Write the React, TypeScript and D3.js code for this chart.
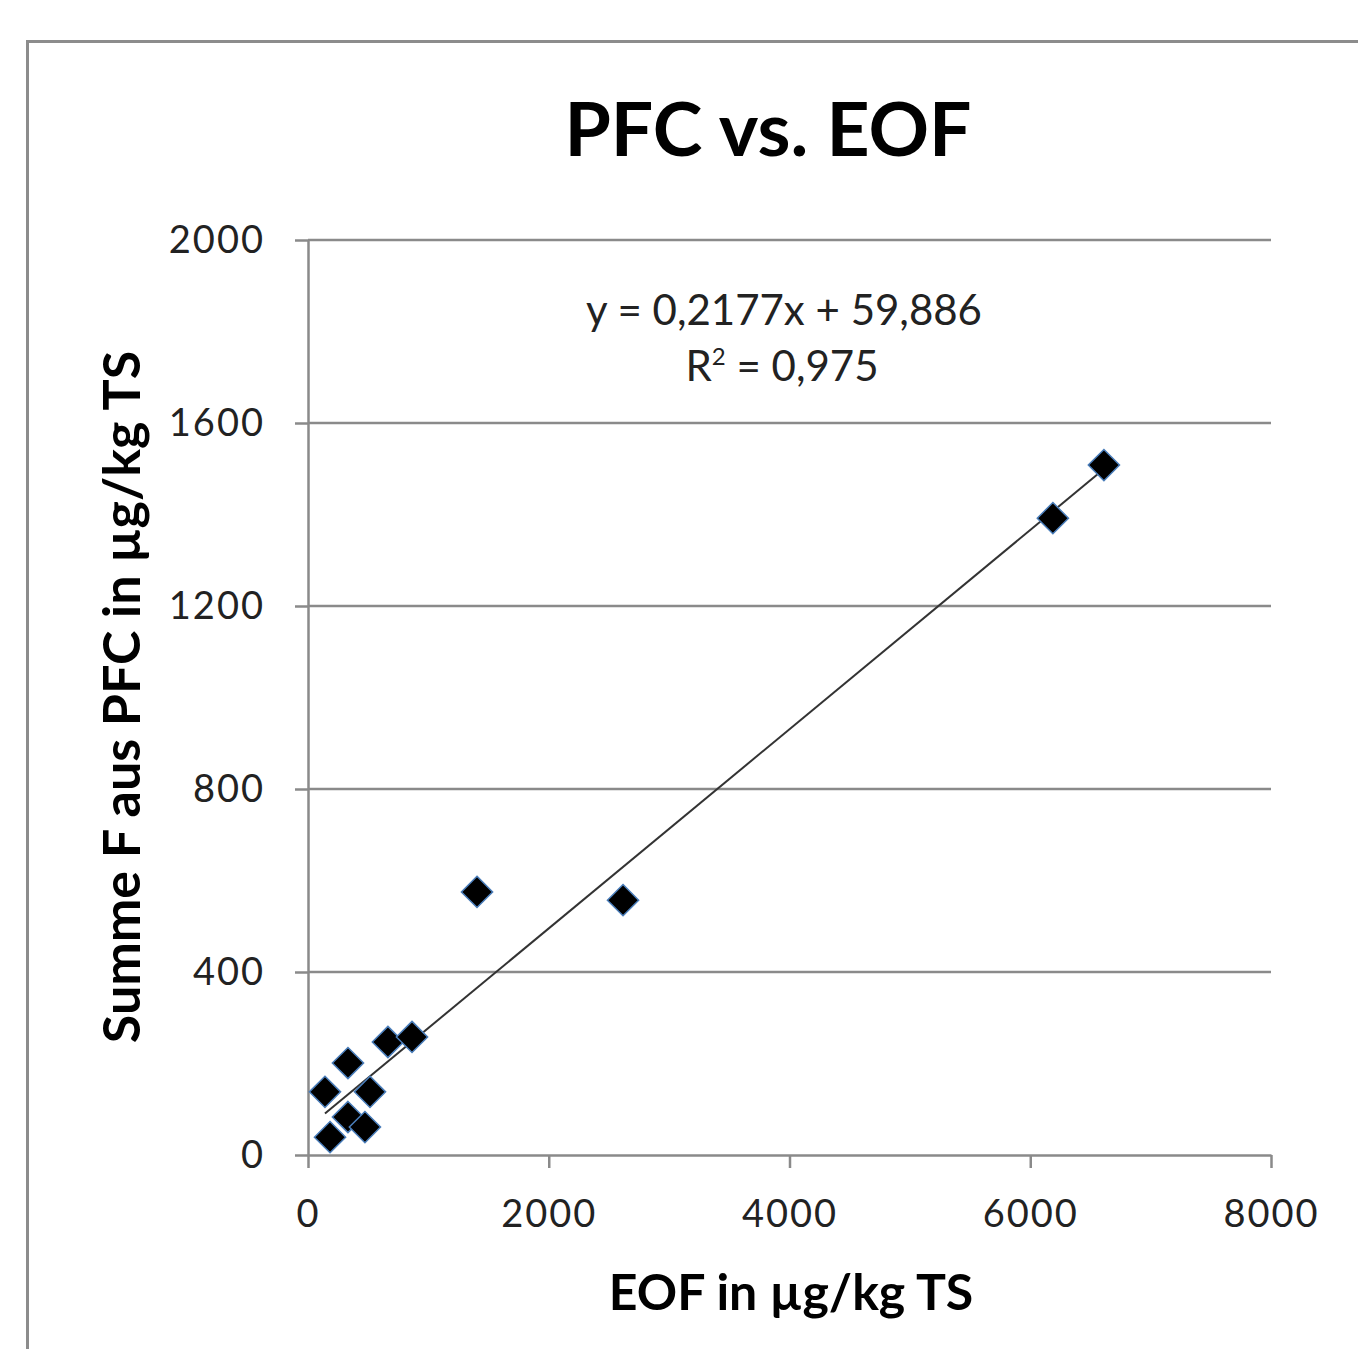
import React, { useEffect, useRef } from 'react';
import * as d3 from 'd3';

const eofValues = [183, 332, 473, 141, 515, 332, 664, 864, 1404, 2617, 6188, 6612];
const pfcValues = [39, 83, 61, 138, 138, 201, 247, 258, 575, 557, 1392, 1508];
const xTicks = [0, 2000, 4000, 6000, 8000];
const yTicks = [0, 400, 800, 1200, 1600, 2000];
const slope = 0.2177;
const intercept = 59.886;

const W = 1358;
const H = 1349;

const drawChart = (container: SVGSVGElement) => {
    d3.select(container).selectAll('*').remove();
    const svg = d3.select(container).attr('width', W).attr('height', H);

    const x = d3.scaleLinear().domain([0, 8000]).range([308, 1271]);
    const y = d3.scaleLinear().domain([0, 2000]).range([1155, 240]);
    const font = 'Lato, "Open Sans", sans-serif';

    svg.append('rect').attr('width', W).attr('height', H).attr('fill', '#fff');

    // outer chart frame (cut at right/bottom)
    svg.append('path')
        .attr('d', `M27.5,${H + 5} V41.5 H${W + 5}`)
        .attr('fill', 'none')
        .attr('stroke', '#8c8c8c')
        .attr('stroke-width', 3);

    // gridlines
    svg.append('g').selectAll('line')
        .data(yTicks.filter(d => d > 0))
        .enter().append('line')
        .attr('x1', x(0)).attr('x2', x(8000))
        .attr('y1', d => y(d)).attr('y2', d => y(d))
        .attr('stroke', '#8a8a8a')
        .attr('stroke-width', 2.5);

    const tickStyle = (g: any) => {
        g.select('.domain').attr('stroke', '#8a8a8a').attr('stroke-width', 2.5);
        g.selectAll('.tick line').attr('stroke', '#8a8a8a').attr('stroke-width', 2.5);
        g.selectAll('.tick text')
            .attr('fill', '#222')
            .style('font-family', font)
            .style('font-size', '38px')
            .style('letter-spacing', '2px');
    };

    svg.append('g')
        .attr('transform', `translate(0,${y(0)})`)
        .call(d3.axisBottom(x).tickValues(xTicks).tickSize(13).tickSizeOuter(0).tickPadding(32).tickFormat(d3.format('d')))
        .call(tickStyle);

    svg.append('g')
        .attr('transform', `translate(${x(0)},0)`)
        .call(d3.axisLeft(y).tickValues(yTicks).tickSize(13).tickSizeOuter(0).tickPadding(30).tickFormat(d3.format('d')))
        .call(tickStyle);

    // trendline
    const [xmin, xmax] = d3.extent(eofValues) as [number, number];
    svg.append('line')
        .attr('x1', x(xmin)).attr('y1', y(slope * xmin + intercept))
        .attr('x2', x(xmax)).attr('y2', y(slope * xmax + intercept))
        .attr('stroke', '#333')
        .attr('stroke-width', 2);

    // markers
    const diamond = d3.symbol().type(d3.symbolDiamond2).size(620);
    svg.append('g').selectAll('path')
        .data(eofValues.map((v, i) => ({ x: v, y: pfcValues[i] })))
        .enter().append('path')
        .attr('d', diamond as any)
        .attr('transform', d => `translate(${x(d.x)},${y(d.y)})`)
        .attr('fill', '#000')
        .attr('stroke', '#4a7ebb')
        .attr('stroke-width', 1.5);

    svg.append('text')
        .attr('x', 768).attr('y', 156)
        .attr('text-anchor', 'middle')
        .style('font-family', font)
        .style('font-weight', 700)
        .style('font-size', '75px')
        .attr('fill', '#000')
        .text('PFC vs. EOF');

    svg.append('text')
        .attr('x', 784).attr('y', 325)
        .attr('text-anchor', 'middle')
        .style('font-family', font)
        .style('font-size', '42px')
        .attr('fill', '#222')
        .text('y = 0,2177x + 59,886');

    const r2 = svg.append('text')
        .attr('x', 782).attr('y', 381)
        .attr('text-anchor', 'middle')
        .style('font-family', font)
        .style('font-size', '42px')
        .attr('fill', '#222');
    r2.append('tspan').text('R');
    r2.append('tspan').attr('dy', -16).style('font-size', '24px').text('2');
    r2.append('tspan').attr('dy', 16).text(' = 0,975');

    svg.append('text')
        .attr('x', 791).attr('y', 1310)
        .attr('text-anchor', 'middle')
        .style('font-family', font)
        .style('font-weight', 700)
        .style('font-size', '50px')
        .attr('fill', '#000')
        .text('EOF in µg/kg TS');

    svg.append('text')
        .attr('transform', `translate(140,697) rotate(-90)`)
        .attr('text-anchor', 'middle')
        .style('font-family', font)
        .style('font-weight', 700)
        .style('font-size', '52px')
        .attr('fill', '#000')
        .text('Summe F aus PFC in µg/kg TS');
};

const App = () => {
    const ref = useRef<SVGSVGElement>(null);
    useEffect(() => {
        if (ref.current) drawChart(ref.current);
    }, []);
    return (
        <div>
            <svg ref={ref} style={{ position: 'absolute', left: 0, top: 0 }} />
        </div>
    );
};

export default App;
